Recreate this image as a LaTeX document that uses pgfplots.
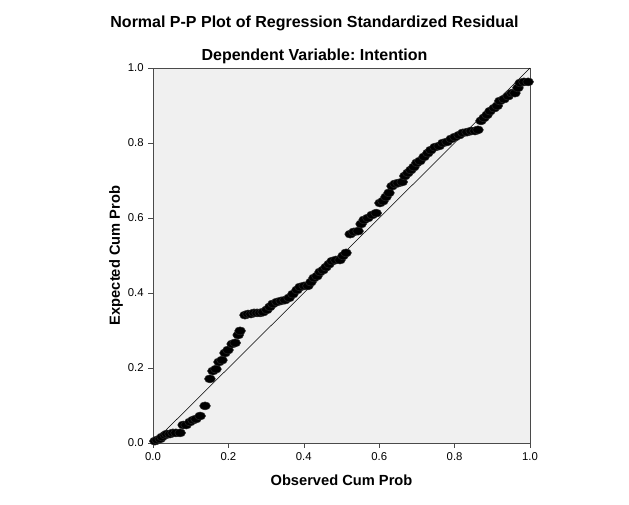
\documentclass[border=0pt]{standalone}
\usepackage{fontspec}
\setmainfont{Liberation Sans}
\usepackage{pgfplots}
\pgfplotsset{compat=1.18}
\definecolor{plotbg}{HTML}{F0F0F0}
\definecolor{spine}{HTML}{4A4A4A}
\frenchspacing

\pgfplotstableread{
obs exp
0.005 0.005
0.011 0.008
0.019 0.011
0.024 0.016
0.032 0.021
0.037 0.024
0.045 0.024
0.053 0.027
0.061 0.027
0.072 0.027
0.080 0.048
0.088 0.048
0.098 0.056
0.106 0.061
0.114 0.064
0.125 0.072
0.138 0.099
0.151 0.171
0.159 0.192
0.167 0.197
0.175 0.216
0.183 0.221
0.191 0.240
0.199 0.248
0.210 0.264
0.218 0.267
0.226 0.288
0.231 0.299
0.244 0.341
0.252 0.344
0.260 0.344
0.268 0.347
0.276 0.347
0.284 0.347
0.292 0.349
0.302 0.355
0.310 0.363
0.318 0.371
0.329 0.376
0.340 0.379
0.350 0.381
0.361 0.387
0.371 0.397
0.382 0.408
0.390 0.416
0.401 0.419
0.411 0.419
0.419 0.429
0.427 0.440
0.435 0.445
0.443 0.456
0.451 0.461
0.459 0.469
0.467 0.477
0.475 0.485
0.485 0.488
0.496 0.488
0.504 0.499
0.512 0.507
0.523 0.557
0.533 0.563
0.544 0.565
0.552 0.584
0.560 0.595
0.570 0.600
0.581 0.608
0.592 0.613
0.602 0.640
0.610 0.645
0.618 0.656
0.626 0.667
0.634 0.685
0.642 0.691
0.650 0.693
0.661 0.696
0.668 0.712
0.676 0.720
0.684 0.728
0.692 0.736
0.700 0.747
0.708 0.752
0.719 0.763
0.729 0.773
0.737 0.781
0.748 0.789
0.759 0.792
0.769 0.800
0.780 0.803
0.791 0.811
0.801 0.816
0.812 0.821
0.822 0.827
0.833 0.829
0.844 0.832
0.854 0.832
0.862 0.835
0.870 0.859
0.878 0.867
0.886 0.875
0.894 0.885
0.905 0.893
0.913 0.899
0.920 0.912
0.931 0.917
0.942 0.925
0.952 0.933
0.960 0.933
0.968 0.947
0.974 0.960
0.984 0.963
0.995 0.963
}\pptable

\begin{document}
\begin{tikzpicture}
\useasboundingbox (-114.75pt,-45.75pt) rectangle (357pt,332.25pt);
\begin{axis}[
  at={(0,0)}, anchor=south west,
  scale only axis, width=282.75pt, height=281.25pt,
  xmin=0, xmax=1, ymin=0, ymax=1,
  axis background/.style={fill=plotbg},
  axis line style={spine},
  xtick={0,0.2,...,1}, ytick={0,0.2,...,1},
  xtick pos=bottom, ytick pos=left,
  tick align=outside, major tick length=3.5pt,
  tick style={spine},
  ticklabel style={font=\fontsize{8.5}{9}\selectfont},
  /pgf/number format/.cd, fixed, fixed zerofill, precision=1, assume math mode=true,
  /pgfplots/.cd,
  xlabel={Observed Cum Prob}, ylabel={Expected Cum Prob},
  label style={font=\bfseries\fontsize{11}{13}\selectfont},
  xlabel style={at={(axis description cs:0.5,0)}, anchor=center, yshift=-27.75pt},
  ylabel style={at={(axis description cs:-0.098,0.5)}, anchor=center},
  clip=false,
]
  \addplot[black, thin, no marks] coordinates {(0,0) (1,1)};
  \addplot[only marks, mark=*, mark size=3pt,
    mark options={xscale=1.35, fill=black, draw=black!85}] table[x=obs, y=exp] {\pptable};
\end{axis}
\node[font=\bfseries\fontsize{12}{14}\selectfont] at (121.1pt,315pt) {Normal P-P Plot of Regression Standardized Residual};
\node[font=\bfseries\fontsize{12}{14}\selectfont] at (121.1pt,290.25pt) {Dependent Variable: Intention};
\end{tikzpicture}
\end{document}
